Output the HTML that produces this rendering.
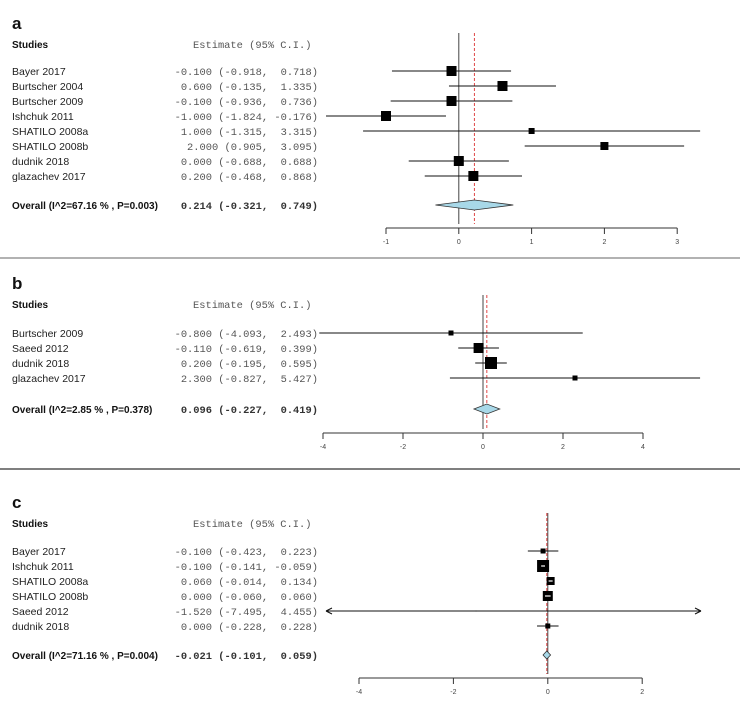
<!DOCTYPE html>
<html><head><meta charset="utf-8"><style>
body{margin:0;background:#fff;width:754px;height:712px;overflow:hidden}
svg{display:block}
.nm{font-family:"Liberation Sans",sans-serif;font-size:10.5px;fill:#222}
.es{font-family:"Liberation Mono",monospace;font-size:10.4px;fill:#555;white-space:pre}
.bd{font-family:"Liberation Sans",sans-serif;font-size:10px;font-weight:bold;fill:#111}
.lt{font-family:"Liberation Sans",sans-serif;font-size:17px;font-weight:bold;fill:#111}
.tk{font-family:"Liberation Sans",sans-serif;font-size:7px;fill:#444}
</style></head><body>
<svg id="chart" width="754" height="712" xmlns="http://www.w3.org/2000/svg"></svg>
<script>
// Panel a
const aStudies=["Bayer 2017","Burtscher 2004","Burtscher 2009","Ishchuk 2011","SHATILO 2008a","SHATILO 2008b","dudnik 2018","glazachev 2017"];
const aEst=[-0.1,0.6,-0.1,-1.0,1.0,2.0,0.0,0.2];
const aLo=[-0.918,-0.135,-0.936,-1.824,-1.315,0.905,-0.688,-0.468];
const aHi=[0.718,1.335,0.736,-0.176,3.315,3.095,0.688,0.868];
const aSize=[10,10,10,10,6,8,10,10];
const aOverall=[0.214,-0.321,0.749];
const aOverallLabel="Overall (I^2=67.16 % , P=0.003)";
const aTicks=[-1,0,1,2,3];
// Panel b
const bStudies=["Burtscher 2009","Saeed 2012","dudnik 2018","glazachev 2017"];
const bEst=[-0.8,-0.11,0.2,2.3];
const bLo=[-4.093,-0.619,-0.195,-0.827];
const bHi=[2.493,0.399,0.595,5.427];
const bSize=[5,10,12,5];
const bOverall=[0.096,-0.227,0.419];
const bOverallLabel="Overall (I^2=2.85 % , P=0.378)";
const bTicks=[-4,-2,0,2,4];
// Panel c
const cStudies=["Bayer 2017","Ishchuk  2011","SHATILO 2008a","SHATILO 2008b","Saeed 2012","dudnik 2018"];
const cEst=[-0.1,-0.1,0.06,0.0,-1.52,0.0];
const cLo=[-0.423,-0.141,-0.014,-0.060,-7.495,-0.228];
const cHi=[0.223,-0.059,0.134,0.060,4.455,0.228];
const cSize=[5,12,8,10,1,5];
const cOverall=[-0.021,-0.101,0.059];
const cOverallLabel="Overall (I^2=71.16 % , P=0.004)";
const cTicks=[-4,-2,0,2];

const svg=document.getElementById('chart');
const NS="http://www.w3.org/2000/svg";
function mk(tag,attrs,parent){const e=document.createElementNS(NS,tag);for(const k in attrs)e.setAttribute(k,attrs[k]);(parent||svg).appendChild(e);return e;}
function f3(v){return (v<0?"-":" ")+Math.abs(v).toFixed(3);}

function panel(p){
  const g=mk('g',{});
  
  
  const sx=v=>p.x0+(v-p.ticks[0])*p.unit;
  let t=mk('text',{x:12,y:p.top,class:'lt'},g);t.textContent=p.letter;
  
  t=mk('text',{x:12,y:p.top+19,class:'bd'},g);t.textContent="Studies";
  
  t=mk('text',{x:193,y:p.top+19,class:'es'},g);t.textContent="Estimate (95% C.I.)";
  
  const xmin=p.clip[0],xmax=p.clip[1];
  const l0=mk('line',{x1:sx(0),x2:sx(0),y1:p.vtop,y2:p.axisY-4,stroke:'#444','stroke-width':1},g);
  
  const ld=mk('line',{x1:sx(p.overall[0]),x2:sx(p.overall[0]),y1:p.vtop,y2:p.axisY-4,stroke:'#d33','stroke-width':0.9,'stroke-dasharray':'3,2'},g);
  
  p.studies.forEach((s,i)=>{
    const y=p.row0+i*p.step;
    const row=mk('g',{},g);
    
    let n=mk('text',{x:12,y:y+4,class:'nm'},row);n.textContent=s;
    
    let e=mk('text',{x:318,y:y+4,class:'es','text-anchor':'end'},row);
    e.textContent=f3(p.est[i])+" ("+f3(p.lo[i]).trim()+", "+f3(p.hi[i])+")";
    
    const lo=Math.max(sx(p.lo[i]),xmin),hi=Math.min(sx(p.hi[i]),xmax);
    const ci=mk('line',{x1:lo,x2:hi,y1:y,y2:y,stroke:'#111','stroke-width':1},row);
    
    if(sx(p.lo[i])<xmin){const a=mk('path',{d:`M${xmin} ${y} l6 -3 M${xmin} ${y} l6 3`,stroke:'#111',fill:'none'},row);
      }
    if(sx(p.hi[i])>xmax){const a=mk('path',{d:`M${xmax} ${y} l-6 -3 M${xmax} ${y} l-6 3`,stroke:'#111',fill:'none'},row);
      }
    const sz=p.size[i];
    const sq=mk('rect',{x:sx(p.est[i])-sz/2,y:y-sz/2,width:sz,height:sz,fill:'#000'},row);
    
    if(p.whiteLine&&sz>=8){const w=mk('line',{x1:Math.max(lo,sx(p.est[i])-sz/2+2),x2:Math.min(hi,sx(p.est[i])+sz/2-2),y1:y,y2:y,stroke:'#fff','stroke-width':1.2},row);
      }
  });
  const oy=p.overallY;
  let o=mk('text',{x:12,y:oy+4,class:'bd'},g);o.textContent=p.overallLabel;
  
  o=mk('text',{x:318,y:oy+4,class:'es','text-anchor':'end',style:'font-weight:bold;fill:#333'},g);
  o.textContent=f3(p.overall[0])+" ("+f3(p.overall[1]).trim()+", "+f3(p.overall[2])+")";
  
  const dm=mk('polygon',{points:`${sx(p.overall[1])},${oy} ${sx(p.overall[0])},${oy-p.dh} ${sx(p.overall[2])},${oy} ${sx(p.overall[0])},${oy+p.dh}`,fill:'#a8d8e8',stroke:'#333','stroke-width':0.8},g);
  
  const ax=mk('line',{x1:sx(p.ticks[0]),x2:sx(p.ticks[p.ticks.length-1]),y1:p.axisY,y2:p.axisY,stroke:'#333'},g);
  
  p.ticks.forEach(v=>{
    const tk=mk('line',{x1:sx(v),x2:sx(v),y1:p.axisY,y2:p.axisY+6,stroke:'#333'},g);
    
    const tl=mk('text',{x:sx(v),y:p.axisY+16,class:'tk','text-anchor':'middle'},g);
    tl.textContent=v;
    
  });
}
panel({letter:'a',top:29,studies:aStudies,est:aEst,lo:aLo,hi:aHi,size:aSize,overall:aOverall,overallLabel:aOverallLabel,ticks:aTicks,
  x0:386,unit:72.8,row0:71,step:15,overallY:205,axisY:228,vtop:33,dh:5,clip:[0,754]});
panel({letter:'b',top:289,studies:bStudies,est:bEst,lo:bLo,hi:bHi,size:bSize,overall:bOverall,overallLabel:bOverallLabel,ticks:bTicks,
  x0:323,unit:40,row0:333,step:15,overallY:409,axisY:433,vtop:295,dh:5,clip:[0,754]});
panel({letter:'c',top:508,studies:cStudies,est:cEst,lo:cLo,hi:cHi,size:cSize,overall:cOverall,overallLabel:cOverallLabel,ticks:cTicks,
  x0:359,unit:47.2,row0:551,step:15,overallY:655,axisY:678,vtop:513,dh:4,clip:[326,701],whiteLine:true});
const s1=mk('line',{x1:0,x2:740,y1:258,y2:258,stroke:'#999','stroke-width':1.5});

const s2=mk('line',{x1:0,x2:740,y1:469,y2:469,stroke:'#555','stroke-width':1.5});

</script>
</body></html>
